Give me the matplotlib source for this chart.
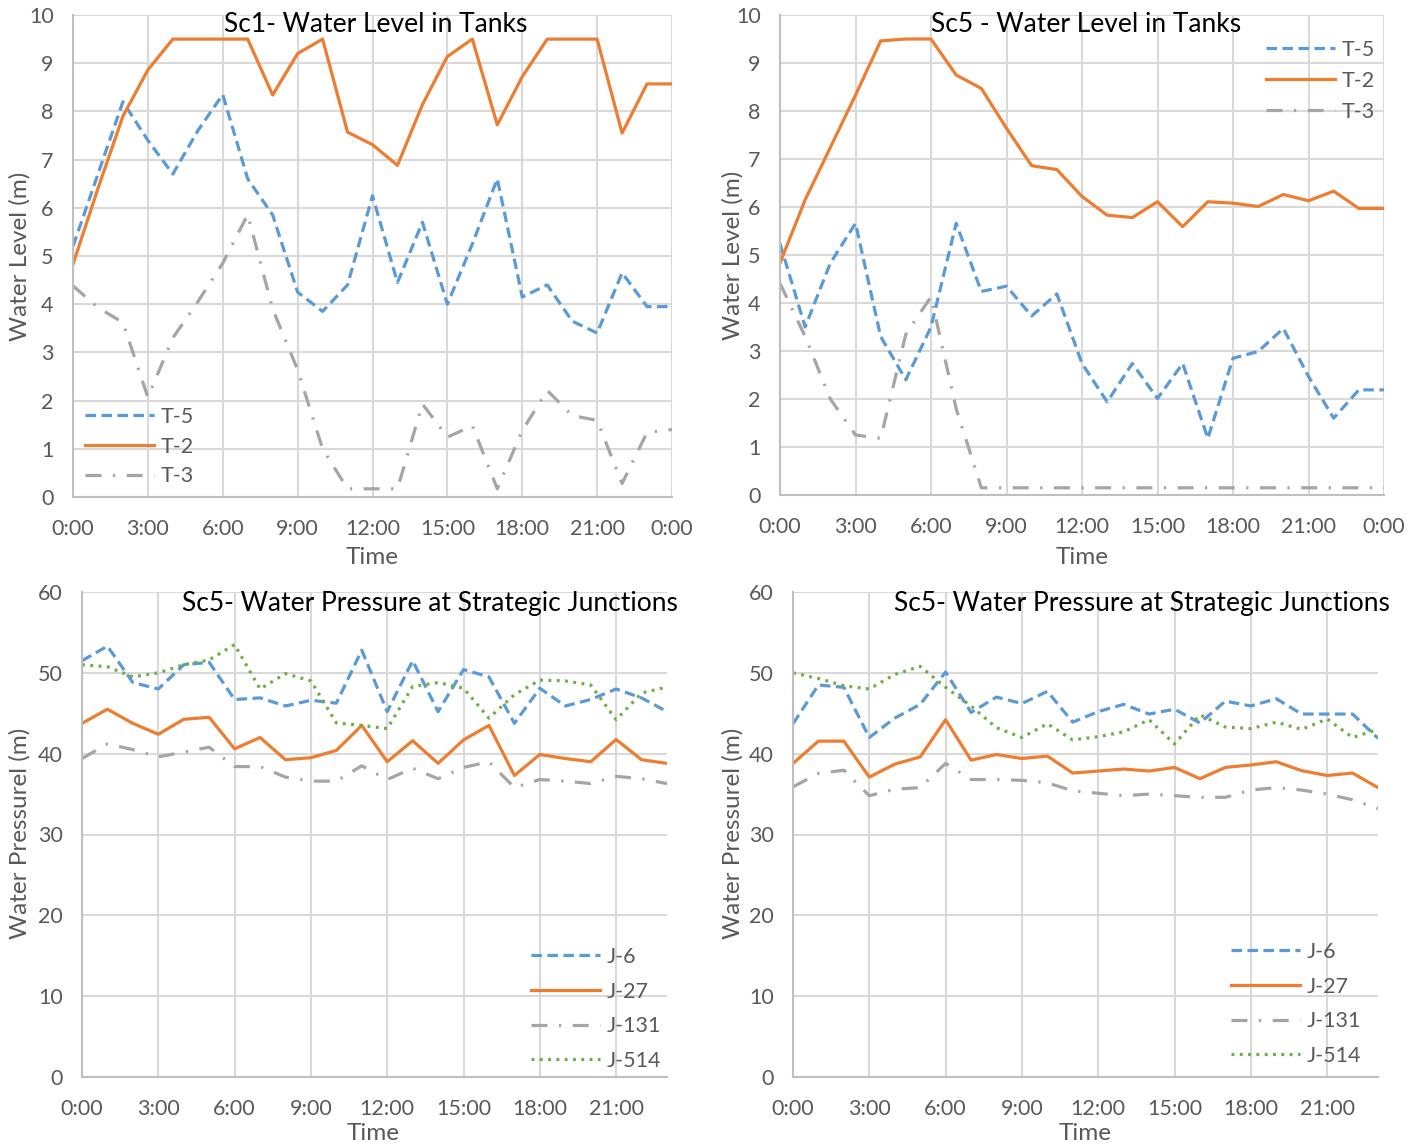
import matplotlib
matplotlib.use("Agg")
import matplotlib.pyplot as plt

# ---- data -------------------------------------------------------------
hours_day = list(range(25))          # 0:00 .. 24:00 (tank levels)
hours_jn = list(range(24))           # 0:00 .. 23:00 (junction pressures)

tank_labels = ["T-5", "T-2", "T-3"]
junction_labels = ["J-6", "J-27", "J-131", "J-514"]

t5_sc1 = [5.2, 6.7, 8.2, 7.4, 6.7, 7.6, 8.35, 6.6, 5.85, 4.25, 3.85, 4.4, 6.25,
          4.45, 5.7, 4.0, 5.25, 6.6, 4.15, 4.4, 3.65, 3.4, 4.65, 3.95, 3.95]
t2_sc1 = [4.83, 6.4, 7.9, 8.86, 9.5, 9.5, 9.5, 9.5, 8.34, 9.2, 9.5, 7.57, 7.31,
          6.88, 8.14, 9.14, 9.5, 7.72, 8.72, 9.5, 9.5, 9.5, 7.55, 8.57, 8.57]
t3_sc1 = [4.38, 3.93, 3.62, 2.07, 3.3, 4.05, 4.85, 5.86, 3.9, 2.64, 1.0, 0.17, 0.17,
          0.17, 1.93, 1.24, 1.48, 0.17, 1.38, 2.21, 1.69, 1.59, 0.28, 1.34, 1.4]

t5_sc5 = [5.24, 3.5, 4.83, 5.66, 3.3, 2.4, 3.5, 5.66, 4.24, 4.35, 3.73, 4.19, 2.74,
          1.94, 2.74, 2.01, 2.74, 1.18, 2.85, 2.99, 3.47, 2.47, 1.6, 2.19, 2.19]
t2_sc5 = [4.83, 6.15, 7.24, 8.33, 9.46, 9.5, 9.5, 8.75, 8.47, 7.64, 6.86, 6.78, 6.22,
          5.83, 5.78, 6.11, 5.59, 6.11, 6.08, 6.01, 6.26, 6.13, 6.33, 5.97, 5.97]
t3_sc5 = [4.41, 3.3, 2.0, 1.25, 1.18, 3.35, 4.13, 1.8, 0.15, 0.15, 0.15, 0.15, 0.15,
          0.15, 0.15, 0.15, 0.15, 0.15, 0.15, 0.15, 0.15, 0.15, 0.15, 0.15, 0.15]

j6_a = [51.5, 53.3, 48.8, 48.0, 51.0, 51.3, 46.7, 46.9, 45.9, 46.6, 46.25, 52.8,
        45.2, 51.5, 45.2, 50.4, 49.5, 43.75, 48.1, 45.9, 46.7, 48.0, 46.9, 45.2]
j27_a = [43.75, 45.5, 43.75, 42.4, 44.25, 44.5, 40.6, 42.0, 39.25, 39.5, 40.4, 43.5,
         39.0, 41.6, 38.8, 41.7, 43.5, 37.3, 39.9, 39.4, 39.0, 41.75, 39.25, 38.8]
j131_a = [39.4, 41.2, 40.5, 39.6, 40.2, 40.8, 38.4, 38.4, 37.1, 36.6, 36.6, 38.5,
          36.8, 38.2, 36.9, 38.3, 39.0, 35.8, 36.8, 36.6, 36.3, 37.2, 36.9, 36.3]
j514_a = [51.0, 50.75, 49.5, 50.0, 51.0, 51.6, 53.5, 48.0, 49.9, 49.0, 43.8, 43.5,
          43.1, 48.3, 48.8, 48.1, 44.4, 47.3, 49.1, 49.0, 48.5, 44.2, 47.5, 48.25]

j6_b = [43.7, 48.5, 48.2, 42.0, 44.4, 46.1, 50.1, 45.1, 47.0, 46.2, 47.7, 43.9,
        45.2, 46.1, 44.9, 45.5, 43.8, 46.5, 45.9, 46.8, 44.9, 44.9, 44.9, 41.9]
j27_b = [38.8, 41.55, 41.55, 37.1, 38.7, 39.6, 44.2, 39.2, 39.9, 39.4, 39.7, 37.6,
         37.85, 38.1, 37.85, 38.3, 36.9, 38.3, 38.6, 39.0, 37.9, 37.3, 37.6, 35.8]
j131_b = [35.9, 37.55, 37.95, 34.8, 35.6, 35.8, 38.8, 36.8, 36.8, 36.7, 36.4, 35.4,
          35.1, 34.8, 35.0, 34.8, 34.6, 34.6, 35.5, 35.8, 35.5, 35.0, 34.3, 33.2]
j514_b = [50.0, 49.3, 48.4, 48.0, 49.8, 50.8, 48.2, 45.9, 43.2, 42.0, 43.7, 41.7,
          42.1, 42.7, 44.2, 41.2, 44.8, 43.3, 43.1, 43.9, 43.0, 44.3, 42.0, 43.0]

tank_ticks = [0, 3, 6, 9, 12, 15, 18, 21, 24]
tank_ticklabels = ["0:00", "3:00", "6:00", "9:00", "12:00", "15:00", "18:00", "21:00", "0:00"]
jn_ticks = [0, 3, 6, 9, 12, 15, 18, 21]
jn_ticklabels = ["0:00", "3:00", "6:00", "9:00", "12:00", "15:00", "18:00", "21:00"]

# ---- styling ----------------------------------------------------------
plt.rcParams["font.family"] = ["Lato", "DejaVu Sans"]
BLUE, ORANGE, GRAY, GREEN = "#5B9BD5", "#ED7D31", "#A5A5A5", "#70AD47"
TXT = "#595959"
GRID = "#D9D9D9"
LW = 2.3
FS = 15.5

styles = {
    "blue": dict(color=BLUE, lw=LW, ls=(0, (3.3, 1.7))),
    "orange": dict(color=ORANGE, lw=LW, ls="-"),
    "gray": dict(color=GRAY, lw=LW, ls=(0, (5.0, 3.6, 0.7, 3.6))),
    "green": dict(color=GREEN, lw=LW, ls=(0, (0.9, 1.7))),
}

W, H = 1421, 1145
fig = plt.figure(figsize=(W / 100, H / 100), dpi=100)


def px_axes(left, top, right, bottom):
    return fig.add_axes([left / W, 1 - bottom / H, (right - left) / W, (bottom - top) / H])


def style_axes(ax, xmax, ymax, ystep, xticks, xticklabels):
    ax.set_xlim(0, xmax)
    ax.set_ylim(0, ymax)
    ax.set_xticks(xticks)
    ax.set_xticklabels(xticklabels)
    ax.set_yticks(list(range(0, ymax + 1, ystep)))
    ax.grid(True, color=GRID, lw=1.5)
    ax.set_axisbelow(True)
    for s in ("top", "right"):
        ax.spines[s].set_visible(False)
    for s in ("left", "bottom"):
        ax.spines[s].set_color("#BFBFBF")
        ax.spines[s].set_linewidth(1.5)
    ax.tick_params(length=0, labelsize=FS, colors=TXT)
    ax.tick_params(axis="x", pad=16)
    ax.tick_params(axis="y", pad=14)


def legend(ax, x, y, spacing):
    ax.legend(loc="upper left", bbox_to_anchor=(x / W, 1 - y / H),
              bbox_transform=fig.transFigure, frameon=False, fontsize=FS,
              handlelength=3.2, handletextpad=0.3, labelspacing=spacing,
              borderpad=0, borderaxespad=0, labelcolor=TXT)


# Sc1 tank levels
ax1 = px_axes(73, 15, 672, 497)
ax1.plot(hours_day, t5_sc1, label=tank_labels[0], **styles["blue"])
ax1.plot(hours_day, t2_sc1, label=tank_labels[1], **styles["orange"])
ax1.plot(hours_day, t3_sc1, label=tank_labels[2], **styles["gray"])
style_axes(ax1, 24, 10, 1, tank_ticks, tank_ticklabels)
legend(ax1, 85, 407, 0.45)

# Sc5 tank levels
ax2 = px_axes(780, 15, 1384, 495)
ax2.plot(hours_day, t5_sc5, label=tank_labels[0], **styles["blue"])
ax2.plot(hours_day, t2_sc5, label=tank_labels[1], **styles["orange"])
ax2.plot(hours_day, t3_sc5, label=tank_labels[2], **styles["gray"])
style_axes(ax2, 24, 10, 1, tank_ticks, tank_ticklabels)
legend(ax2, 1266, 40, 0.5)

# Sc5 junction pressures (left)
ax3 = px_axes(82, 592, 667, 1077)
ax3.plot(hours_jn, j6_a, label=junction_labels[0], **styles["blue"])
ax3.plot(hours_jn, j27_a, label=junction_labels[1], **styles["orange"])
ax3.plot(hours_jn, j131_a, label=junction_labels[2], **styles["gray"])
ax3.plot(hours_jn, j514_a, label=junction_labels[3], **styles["green"])
style_axes(ax3, 23, 60, 10, jn_ticks, jn_ticklabels)
legend(ax3, 531, 947, 0.68)

# Sc5 junction pressures (right)
ax4 = px_axes(793, 592, 1378, 1077)
ax4.plot(hours_jn, j6_b, label=junction_labels[0], **styles["blue"])
ax4.plot(hours_jn, j27_b, label=junction_labels[1], **styles["orange"])
ax4.plot(hours_jn, j131_b, label=junction_labels[2], **styles["gray"])
ax4.plot(hours_jn, j514_b, label=junction_labels[3], **styles["green"])
style_axes(ax4, 23, 60, 10, jn_ticks, jn_ticklabels)
legend(ax4, 1231, 942, 0.68)

# titles and axis labels
TFS = 19
AFS = 17.5
fig.text(376 / W, 1 - 24 / H, "Sc1- Water Level in Tanks", ha="center", va="center", fontsize=TFS, color="black")
fig.text(1086 / W, 1 - 24 / H, "Sc5 - Water Level in Tanks", ha="center", va="center", fontsize=TFS, color="black")
fig.text(430 / W, 1 - 603 / H, "Sc5- Water Pressure at Strategic Junctions", ha="center", va="center", fontsize=TFS, color="black")
fig.text(1142 / W, 1 - 603 / H, "Sc5- Water Pressure at Strategic Junctions", ha="center", va="center", fontsize=TFS, color="black")

for x, y in [(372, 557), (1082, 557), (373, 1133), (1085, 1133)]:
    fig.text(x / W, 1 - y / H, "Time", ha="center", va="center", fontsize=AFS, color=TXT)
for x, y in [(20, 256), (733, 255)]:
    fig.text(x / W, 1 - y / H, "Water Level (m)", ha="center", va="center", rotation=90, fontsize=AFS, color=TXT)
for x, y in [(20, 833), (733, 833)]:
    fig.text(x / W, 1 - y / H, "Water Pressurel (m)", ha="center", va="center", rotation=90, fontsize=AFS, color=TXT)

fig.savefig("out.png", dpi=100)
